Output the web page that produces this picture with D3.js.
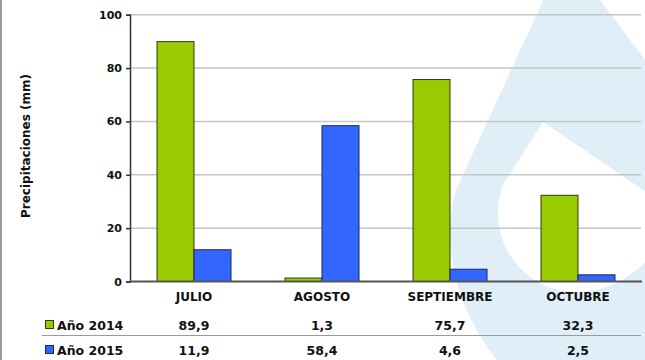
<!DOCTYPE html>
<html>
<head>
<meta charset="utf-8">
<script src="https://cdn.jsdelivr.net/npm/d3@7"></script>
<style>
    body { margin: 0; background: #fff; }
    text { font-family: "DejaVu Sans", Verdana, sans-serif; font-weight: bold; fill: #111; }
</style>
</head>
<body>
<script>
// chart data
var months = ["JULIO", "AGOSTO", "SEPTIEMBRE", "OCTUBRE"];
var seriesNames = ["Año 2014", "Año 2015"];
var values2014 = [89.9, 1.3, 75.7, 32.3];
var values2015 = [11.9, 58.4, 4.6, 2.5];
var labels2014 = ["89,9", "1,3", "75,7", "32,3"];
var labels2015 = ["11,9", "58,4", "4,6", "2,5"];
var yTicks = [0, 20, 40, 60, 80, 100];

var width = 645, height = 360;
var margin = {top: 14.7, left: 130, right: 3, bottom: 78.5};
var colors = ["#99cc00", "#3366ff"];
var strokes = ["#2e3a10", "#1c2566"];

var svg = d3.select("body").append("svg")
    .attr("width", width)
    .attr("height", height);

// watermark (logo drop) in the background
svg.append("path")
    .attr("d", "M565,-47 L455,192 C438,262 468,335 515,380 L720,380 L720,160 Z")
    .style("fill", "#e0eef8");
svg.append("path")
    .attr("d", "M543,122 L503,185 C484,235 520,294 580,292 C628,290 660,252 680,215 Z")
    .style("fill", "#ffffff");

// left border
svg.append("line")
    .attr("x1", 1).attr("y1", 0).attr("x2", 1).attr("y2", height)
    .style("stroke", "#9a9a9a").style("stroke-width", 2);

var x0 = d3.scaleBand()
    .domain(months)
    .range([margin.left, width - margin.right]);

var x1 = d3.scaleBand()
    .domain(seriesNames)
    .range([0, x0.bandwidth()])
    .paddingOuter(0.73);

var y = d3.scaleLinear()
    .domain([0, 100])
    .range([height - margin.bottom, margin.top]);

// grid lines
svg.append("g").selectAll("line")
    .data(yTicks.slice(1))
    .enter().append("line")
    .attr("x1", margin.left)
    .attr("x2", width - 4)
    .attr("y1", function (d) { return y(d); })
    .attr("y2", function (d) { return y(d); })
    .style("stroke", "#c6c6c6")
    .style("stroke-width", 1.5);

// y axis
var yAxis = svg.append("g")
    .attr("transform", "translate(" + margin.left + ",0)")
    .call(d3.axisLeft(y).tickValues(yTicks).tickSize(4).tickPadding(4));
yAxis.select(".domain").style("stroke", "#333").style("stroke-width", 1.5);
yAxis.selectAll(".tick line").style("stroke", "#333").style("stroke-width", 1.5);
yAxis.selectAll(".tick text")
    .style("font-family", "DejaVu Sans")
    .style("font-weight", "bold")
    .style("font-size", "11px")
    .style("fill", "#111");

// y title
svg.append("text")
    .attr("transform", "translate(30,146) rotate(-90)")
    .attr("text-anchor", "middle")
    .style("font-size", "12px")
    .text("Precipitaciones (mm)");

// bars
var rows = [values2014, values2015];
var groups = svg.append("g").selectAll("g")
    .data(months)
    .enter().append("g")
    .attr("transform", function (d) { return "translate(" + x0(d) + ",0)"; });

groups.selectAll("rect")
    .data(function (d, i) {
        return seriesNames.map(function (s, k) { return {s: s, k: k, v: rows[k][i]}; });
    })
    .enter().append("rect")
    .attr("x", function (d) { return x1(d.s); })
    .attr("width", x1.bandwidth())
    .attr("y", function (d) { return y(d.v); })
    .attr("height", function (d) { return y(0) - y(d.v); })
    .style("fill", function (d) { return colors[d.k]; })
    .style("stroke", function (d) { return strokes[d.k]; })
    .style("stroke-width", 1);

// x axis line
svg.append("line")
    .attr("x1", margin.left).attr("x2", width - 3)
    .attr("y1", y(0)).attr("y2", y(0))
    .style("stroke", "#555").style("stroke-width", 2);

// category labels
svg.append("g").selectAll("text")
    .data(months)
    .enter().append("text")
    .attr("x", function (d) { return x0(d) + x0.bandwidth() / 2; })
    .attr("y", 301)
    .attr("text-anchor", "middle")
    .style("font-size", "12px")
    .text(function (d) { return d; });

// data table
svg.append("line")
    .attr("x1", 42).attr("x2", width - 4)
    .attr("y1", 335.5).attr("y2", 335.5)
    .style("stroke", "#9a9a9a").style("stroke-width", 1.2);

var tableLabels = [labels2014, labels2015];
var rowBase = [330, 355];

seriesNames.forEach(function (s, k) {
    svg.append("rect")
        .attr("x", 45.5).attr("y", rowBase[k] - 9.5)
        .attr("width", 8).attr("height", 8)
        .style("fill", colors[k])
        .style("stroke", strokes[k]);
    svg.append("text")
        .attr("x", 57)
        .attr("y", rowBase[k])
        .style("font-size", "12.5px")
        .text(s);
    svg.append("g").selectAll("text")
        .data(months)
        .enter().append("text")
        .attr("x", function (d) { return x0(d) + x0.bandwidth() / 2; })
        .attr("y", rowBase[k])
        .attr("text-anchor", "middle")
        .style("font-size", "12.5px")
        .text(function (d, i) { return tableLabels[k][i]; });
});
</script>
</body>
</html>
